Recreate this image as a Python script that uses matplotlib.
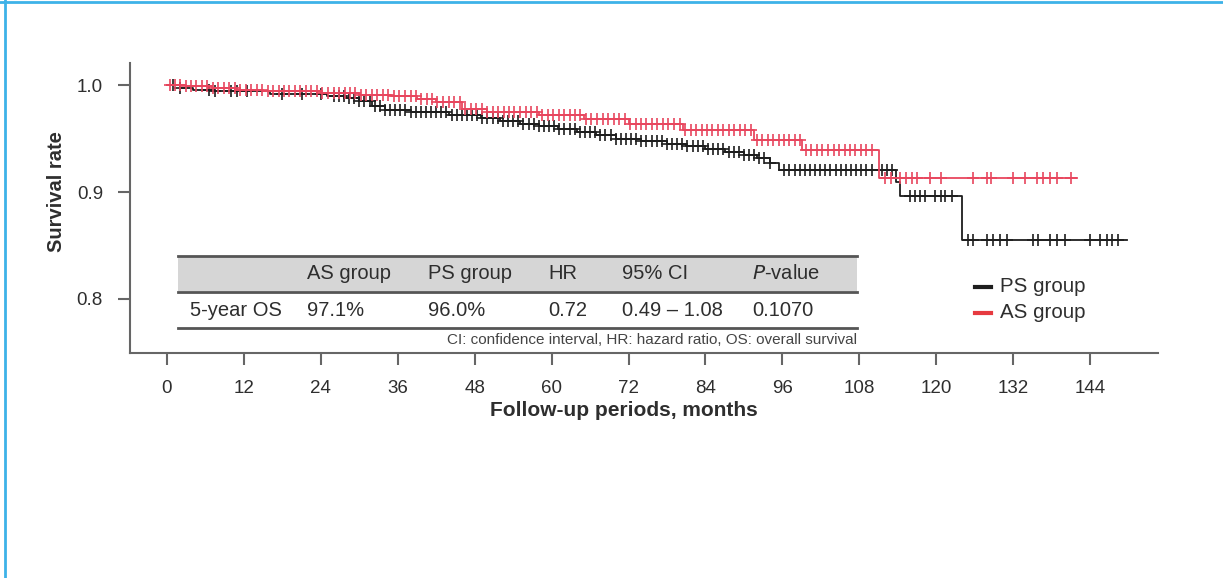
import numpy as np
import matplotlib
matplotlib.use("Agg")
import matplotlib.pyplot as plt
from matplotlib.lines import Line2D
from matplotlib.patches import Rectangle

plt.rcParams['font.family'] = ['Liberation Sans', 'DejaVu Sans']

# ---------------- data ----------------
ps_times = [0, 2, 4, 7, 16, 25, 28, 30, 32, 34, 38, 44, 49, 52, 55, 58, 61, 64, 67, 70,
            74, 78, 81, 84, 87, 90, 92, 94, 95.5, 113.8, 114.4, 124.1]
ps_surv = [1.0, 0.997, 0.995, 0.994, 0.992, 0.990, 0.988, 0.985, 0.980, 0.977, 0.975, 0.972,
           0.969, 0.966, 0.964, 0.962, 0.959, 0.956, 0.953, 0.950, 0.948, 0.945, 0.943, 0.940,
           0.937, 0.935, 0.932, 0.927, 0.921, 0.909, 0.896, 0.855]
ps_end = 149.8
ps_censor = [1, 2, 6.5, 7.5, 10, 11, 12.5, 18, 21, 24,
             26, 26.8, 27.6, 28.4, 29.2, 30, 30.8, 31.6, 32.4, 33.2, 34, 34.8, 35.6, 36.4, 37.2,
             38, 38.8, 39.6, 40.4, 41.2, 42, 42.8, 43.6, 44.4, 45.2, 46, 46.8, 47.6, 48.4, 49.2,
             50, 50.8, 51.6, 52.4, 53.2, 54, 54.8, 55.6, 56.4, 57.2, 58, 58.8, 59.6, 60.4, 61.2,
             62, 62.8, 63.6, 64.4, 65.2, 66, 66.8, 67.6, 68.4, 69.2, 70, 70.8, 71.6, 72.4, 73.2,
             74, 74.8, 75.6, 76.4, 77.2, 78, 78.8, 79.6, 80.4, 81.2, 82, 82.8, 83.6, 84.4, 85.2,
             86, 86.8, 87.6, 88.4, 89.2, 90, 90.8, 91.6, 92.4, 93.2, 94,
             96.3, 97.1, 97.9, 98.7, 99.5, 100.3, 101.1, 101.9, 102.7, 103.5, 104.3, 105.1, 105.9,
             106.7, 107.5, 108.3, 109.1, 110, 111.5, 112.3, 113.1,
             115.9, 116.7, 117.5, 118.3, 119.8, 120.8, 121.4, 122.4, 125, 125.7, 128, 128.9, 130,
             131, 135.1, 135.9, 137.8, 138.8, 140.1, 144, 145.6, 146.6, 147.4, 148.4]

as_times = [0, 3, 7, 11, 15, 24, 30, 35, 39, 42, 46, 50, 58, 65, 72, 80.5, 91.5, 99, 111]
as_surv = [1.0, 0.999, 0.997, 0.995, 0.994, 0.993, 0.991, 0.990, 0.987, 0.984, 0.978, 0.975,
           0.972, 0.968, 0.964, 0.958, 0.949, 0.939, 0.913]
as_end = 142.0
as_censor = [0.5, 1.3, 2.1, 3, 3.8, 4.6, 5.5, 6.3, 7.2, 8, 8.9, 9.7, 10.6, 11.4, 12.3, 13.1, 14,
             14.8, 15.7, 16.5, 17.4, 18.2, 19.1, 20, 20.8, 21.7, 22.5, 23.4, 24.2, 25.1, 26, 26.8,
             27.7, 28.5, 29.4, 30.2, 31.1, 32, 32.8, 33.7, 34.5, 35.4, 36.2, 37.1, 38, 38.8, 39.7,
             40.5, 41.4, 42.2, 43.1, 44, 44.8, 45.7, 46.5, 47.4, 48.2, 49.1, 50, 50.8, 51.7, 52.5,
             53.4, 54.2, 55.1, 56, 56.8, 57.7, 58.5, 59.4, 60.2, 61.1, 62, 62.8, 63.7, 64.5, 65.4,
             66.2, 67.1, 68, 68.8, 69.7, 70.5, 71.4, 72.2, 73.1, 74, 74.8, 75.7, 76.5, 77.4, 78.2,
             79.1, 80, 80.8, 81.7, 82.5, 83.4, 84.2, 85.1, 86, 86.8, 87.7, 88.5, 89.4, 90.2, 91.1,
             92, 92.8, 93.7, 94.5, 95.4, 96.2, 97.1, 98, 98.8, 99.7, 100.5, 101.4, 102.2, 103.1,
             104, 104.8, 105.7, 106.5, 107.4, 108.2, 109.1, 110,
             112, 113, 114.3, 115.3, 116.2, 117, 119, 120.8, 125.7, 127.9, 128.6, 132, 133.8,
             135.8, 136.6, 137.7, 138.8, 141]

x_ticks = [0, 12, 24, 36, 48, 60, 72, 84, 96, 108, 120, 132, 144]
y_ticks = [0.8, 0.9, 1.0]

table_header = ["", "AS group", "PS group", "HR", "95% CI", "P-value"]
table_row = ["5-year OS", "97.1%", "96.0%", "0.72", "0.49 \u2013 1.08", "0.1070"]
footnote = "CI: confidence interval, HR: hazard ratio, OS: overall survival"

series_names = ["PS group", "AS group"]
series_colors = ["#1e1e1e", "#e8465e"]
legend_colors = ["#1e1e1e", "#e63a40"]

# ---------------- figure ----------------
W, H = 1223, 578
fig = plt.figure(figsize=(W / 100, H / 100), dpi=100)
fig.patch.set_facecolor("white")


def fx(x):
    return x / W


def fy(y):
    return 1 - y / H


ax = fig.add_axes([fx(130), fy(353), fx(1158) - fx(130), fy(63) - fy(353)])
ax.set_xlim(-5.77, 154.6)
ax.set_ylim(0.7495, 1.0206)

txtc = "#2e2e2e"
spc = "#666666"


def step_curve(times, surv, end):
    t = list(times) + [end]
    s = list(surv) + [surv[-1]]
    return t, s


def surv_at(times, surv, t):
    idx = np.searchsorted(np.asarray(times), np.asarray(t), side="right") - 1
    return np.asarray(surv)[idx]


for times, surv, end, cens, col in [
    (ps_times, ps_surv, ps_end, ps_censor, series_colors[0]),
    (as_times, as_surv, as_end, as_censor, series_colors[1]),
]:
    t, s = step_curve(times, surv, end)
    ax.step(t, s, where="post", color=col, lw=1.3, zorder=3)
    ax.plot(cens, surv_at(times, surv, cens), linestyle="none", marker="+",
            ms=8, mew=1.2, color=col, zorder=3)

for sp in ["top", "right"]:
    ax.spines[sp].set_visible(False)
for sp in ["left", "bottom"]:
    ax.spines[sp].set_color(spc)
    ax.spines[sp].set_linewidth(1.5)

ax.set_xticks(x_ticks)
ax.set_xticklabels([str(v) for v in x_ticks])
ax.set_yticks(y_ticks)
ax.set_yticklabels([f"{v:.1f}" for v in y_ticks])
ax.tick_params(axis="both", length=8.5, width=1.5, color=spc, labelsize=13.5,
               labelcolor=txtc, pad=11)

fig.text(fx(57), fy(192), "Survival rate", rotation=90, ha="center", va="center",
         fontsize=14.5, fontweight="bold", color=txtc)
fig.text(fx(624), fy(411), "Follow-up periods, months", ha="center", va="center",
         fontsize=15, fontweight="bold", color=txtc)

# ---------------- table ----------------
tx0, tx1 = 178, 857
fig.patches.append(Rectangle((fx(tx0), fy(291)), fx(tx1) - fx(tx0), fy(257) - fy(291),
                             transform=fig.transFigure, facecolor="#d6d6d6",
                             edgecolor="none", zorder=1))
for yy in [256, 292, 328]:
    fig.add_artist(Line2D([fx(tx0), fx(tx1)], [fy(yy), fy(yy)], color="#555555",
                          lw=2.0, transform=fig.transFigure))
col_x = [190, 307, 428, 548, 622, 752]
for cx, h in zip(col_x, table_header):
    if h == "P-value":
        fig.text(fx(cx), fy(274), r"$\it{P}$-value", ha="left", va="center",
                 fontsize=14.5, color=txtc)
    elif h:
        fig.text(fx(cx), fy(274), h, ha="left", va="center", fontsize=14.5, color=txtc)
for cx, v in zip(col_x, table_row):
    fig.text(fx(cx), fy(311), v, ha="left", va="center", fontsize=14.5, color=txtc)
fig.text(fx(tx1), fy(340), footnote, ha="right", va="center", fontsize=11, color="#444444")

# ---------------- legend ----------------
for i, (name, col) in enumerate(zip(series_names, legend_colors)):
    yy = 287 + 26 * i
    fig.add_artist(Line2D([fx(975), fx(991)], [fy(yy), fy(yy)], color=col, lw=3,
                          transform=fig.transFigure))
    fig.text(fx(1000), fy(yy), name, ha="left", va="center", fontsize=14.8, color=txtc)

# ---------------- border ----------------
bc = "#3db2e8"
fig.add_artist(Line2D([0, 1], [fy(2), fy(2)], color=bc, lw=2, transform=fig.transFigure))
fig.add_artist(Line2D([fx(5), fx(5)], [0, 1], color=bc, lw=2, transform=fig.transFigure))

fig.savefig("out.png", dpi=100, facecolor="white")
